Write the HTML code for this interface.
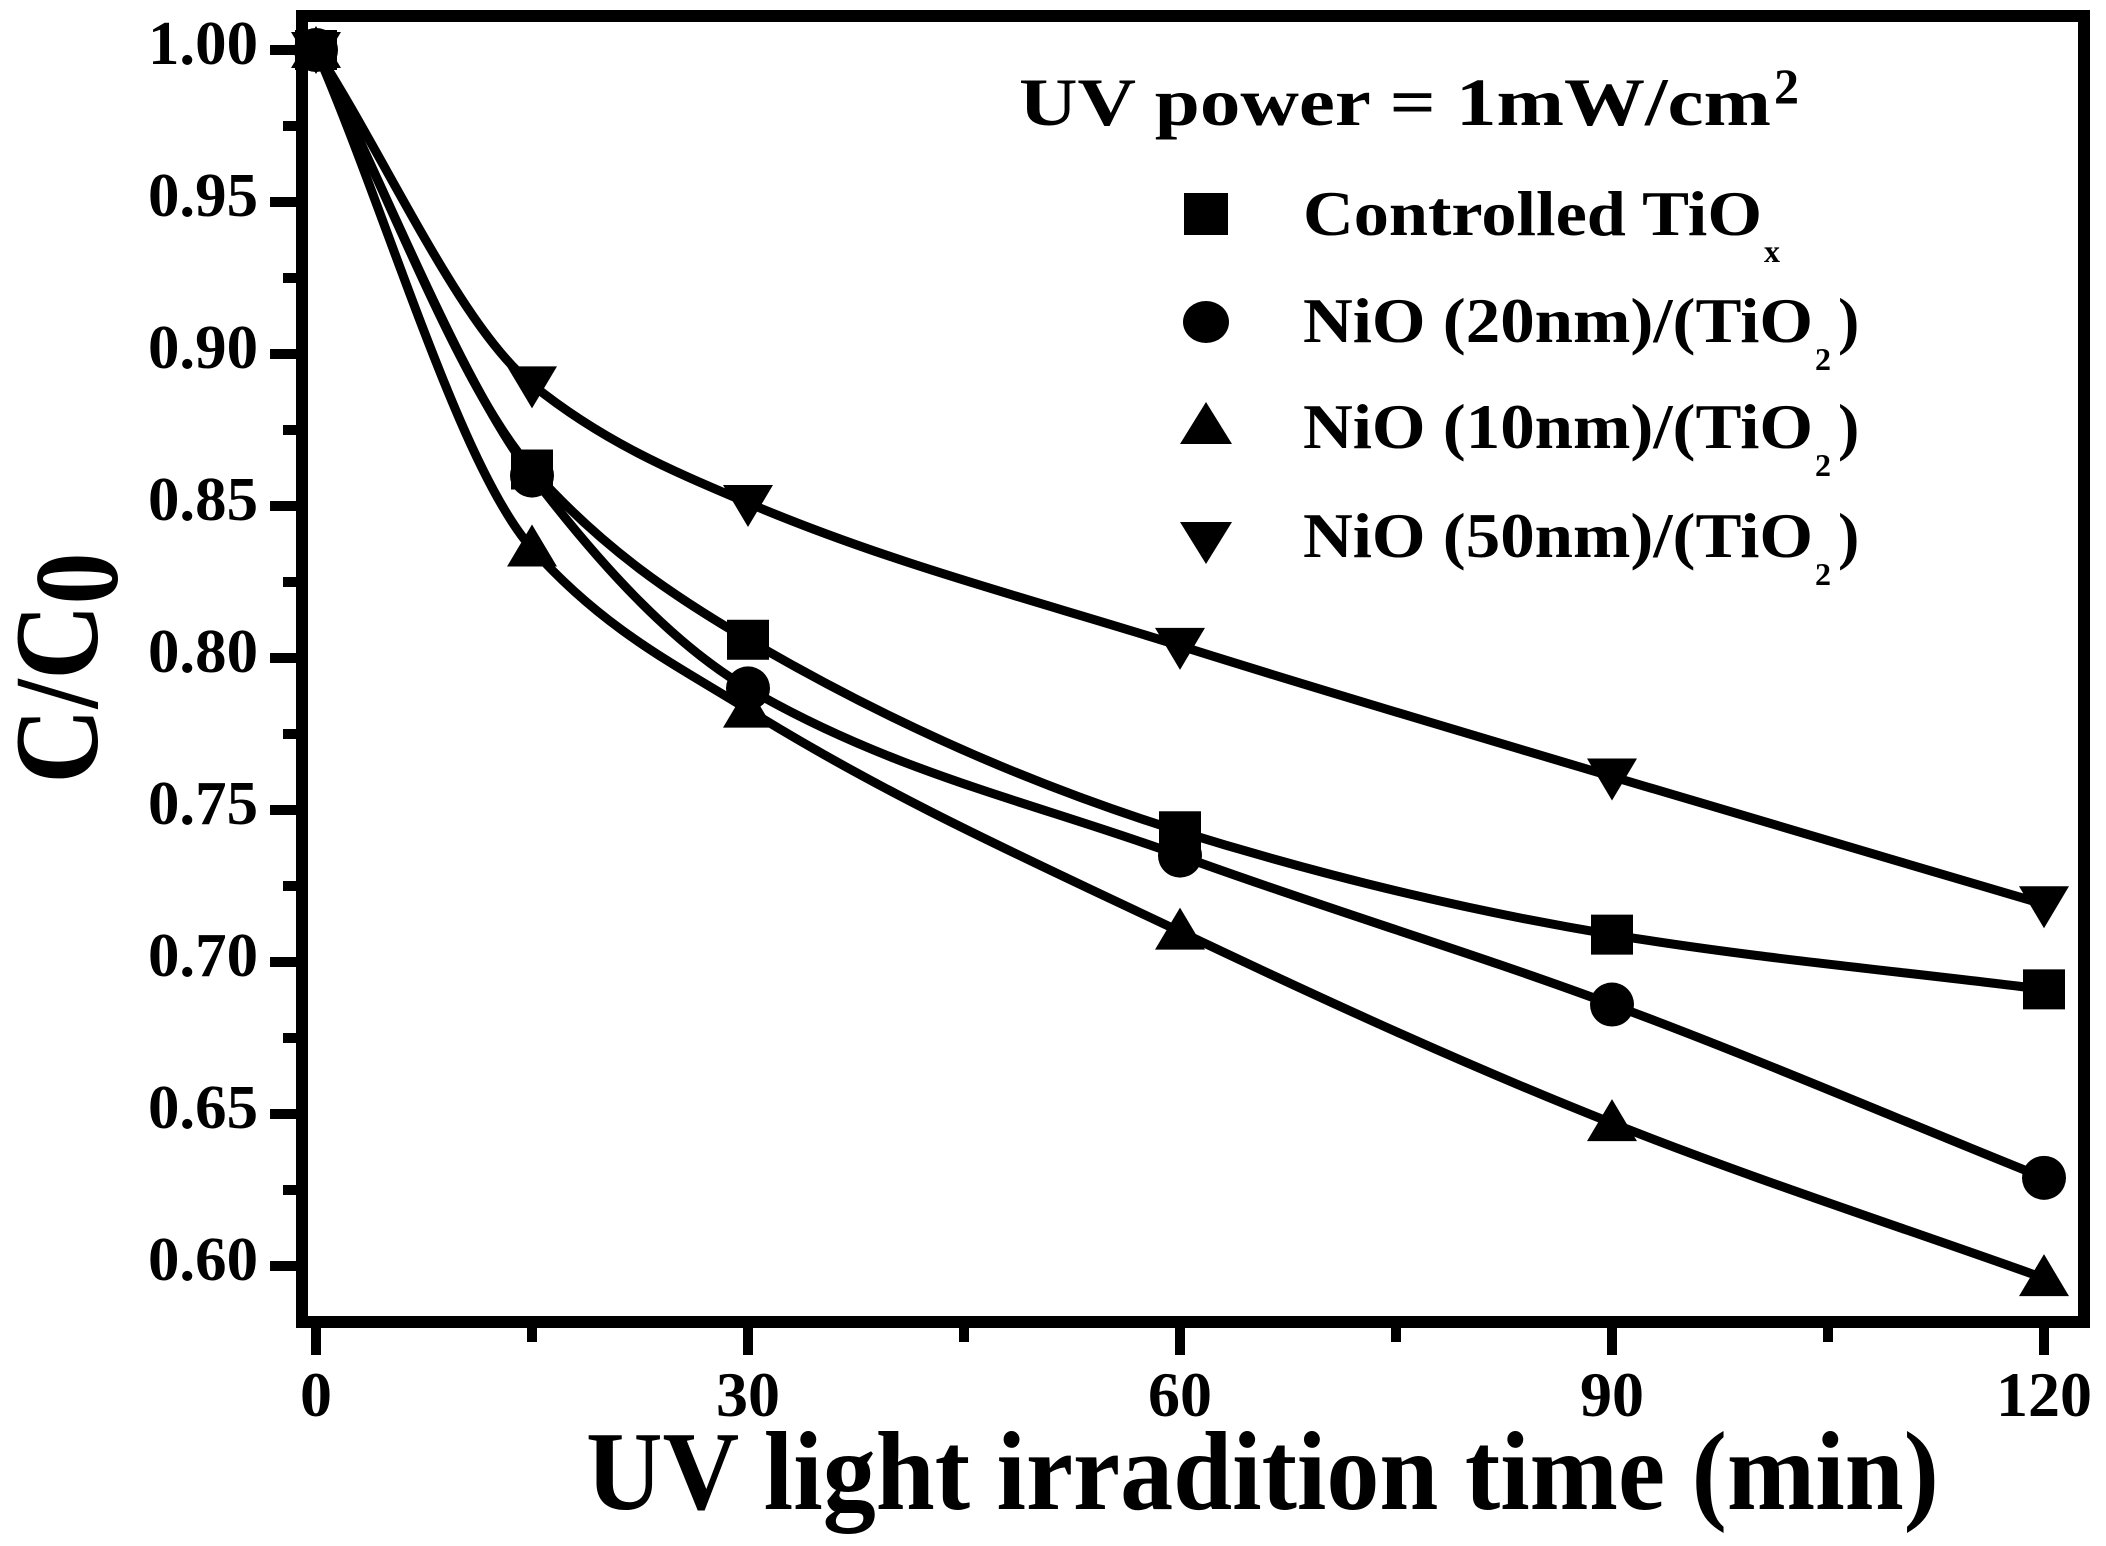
<!DOCTYPE html>
<html><head><meta charset="utf-8"><style>
html,body{margin:0;padding:0;background:#fff;}
svg{display:block;font-family:"Liberation Serif",serif;font-weight:bold;}
</style></head><body>
<svg id="chart" width="2106" height="1546" viewBox="0 0 2106 1546" xmlns="http://www.w3.org/2000/svg">
<rect width="2106" height="1546" fill="#fff"/>
<g id="series"></g>
<rect x="302" y="16" width="1782" height="1306" fill="none" stroke="#000" stroke-width="12"/>
<g id="ticks"></g>
<text transform="translate(97,668) rotate(-90)" text-anchor="middle" font-size="120" textLength="231" lengthAdjust="spacingAndGlyphs">C/C<tspan dy="20">0</tspan></text>
<text x="586" y="1509" font-size="112" textLength="1353" lengthAdjust="spacingAndGlyphs">UV light irradition time  (min)</text>
<g>
<text x="1019" y="125" font-size="68" textLength="752" lengthAdjust="spacingAndGlyphs">UV power = 1mW/cm</text>
<text x="1774" y="103" font-size="50">2</text>
<rect x="1184" y="193" width="44" height="42"/>
<text x="1303" y="235" font-size="64" textLength="459" lengthAdjust="spacingAndGlyphs">Controlled TiO</text>
<text x="1764" y="262" font-size="32">x</text>
<ellipse cx="1206" cy="322" rx="23" ry="21"/>
<text x="1303" y="342" font-size="64" textLength="510" lengthAdjust="spacingAndGlyphs">NiO (20nm)/(TiO</text>
<text x="1815" y="370" font-size="32">2</text>
<text x="1838" y="342" font-size="64">)</text>
<polygon points="1206,402 1232,444 1180,444"/>
<text x="1303" y="448" font-size="64" textLength="510" lengthAdjust="spacingAndGlyphs">NiO (10nm)/(TiO</text>
<text x="1815" y="476" font-size="32">2</text>
<text x="1838" y="448" font-size="64">)</text>
<polygon points="1180,522 1232,522 1206,564"/>
<text x="1303" y="557" font-size="64" textLength="510" lengthAdjust="spacingAndGlyphs">NiO (50nm)/(TiO</text>
<text x="1815" y="585" font-size="32">2</text>
<text x="1838" y="557" font-size="64">)</text>
</g>
</svg>
<script>
const times = [0, 15, 30, 60, 90, 120];
const controlled = [1.0, 0.862, 0.806, 0.743, 0.709, 0.691];
const nio20 = [1.0, 0.860, 0.790, 0.735, 0.686, 0.629];
const nio10 = [1.0, 0.836, 0.783, 0.710, 0.647, 0.596];
const nio50 = [1.0, 0.890, 0.851, 0.804, 0.761, 0.719];
const xTickLabels = ["0", "30", "60", "90", "120"];
const yTickLabels = ["0.60", "0.65", "0.70", "0.75", "0.80", "0.85", "0.90", "0.95", "1.00"];

const NS = "http://www.w3.org/2000/svg";
const xs = v => 316 + v * (1728 / 120);
const ys = v => 1266 - (v - 0.60) * (1216 / 0.40);
function mk(tag, attrs, parent) {
  const e = document.createElementNS(NS, tag);
  for (const k in attrs) e.setAttribute(k, attrs[k]);
  parent.appendChild(e); return e;
}
const tg = document.getElementById('ticks');
for (let m = 0; m <= 120; m += 15) {
  const major = m % 30 === 0;
  const t = mk('line', {x1: xs(m), x2: xs(m), y1: 1326, y2: major ? 1355 : 1342, stroke: '#000', 'stroke-width': 10}, tg);
  
  
}
xTickLabels.forEach(l => {
  const t = mk('text', {x: xs(+l), y: 1416, 'text-anchor': 'middle', 'font-size': 64, textLength: 32 * l.length, lengthAdjust: 'spacingAndGlyphs'}, tg);
  t.textContent = l;
  
  
});
for (let i = 0; i <= 16; i++) {
  const v = 0.60 + i * 0.025;
  const major = i % 2 === 0;
  const t = mk('line', {x1: 298, x2: major ? 270 : 283, y1: ys(v), y2: ys(v), stroke: '#000', 'stroke-width': 10}, tg);
  
  
}
yTickLabels.forEach(l => {
  const t = mk('text', {x: 258, y: ys(+l) + 14, 'text-anchor': 'end', 'font-size': 62, textLength: 110, lengthAdjust: 'spacingAndGlyphs'}, tg);
  t.textContent = l;
  
  
});

function monotonePath(xv, yv) {
  const n = xv.length, d = [], m = [];
  for (let i = 0; i < n - 1; i++) d.push((yv[i + 1] - yv[i]) / (xv[i + 1] - xv[i]));
  m[0] = d[0]; m[n - 1] = d[n - 2];
  for (let i = 1; i < n - 1; i++) {
    if (d[i - 1] * d[i] <= 0) m[i] = 0;
    else {
      const h0 = xv[i] - xv[i - 1], h1 = xv[i + 1] - xv[i];
      const w1 = 2 * h1 + h0, w2 = h1 + 2 * h0;
      m[i] = (w1 + w2) / (w1 / d[i - 1] + w2 / d[i]);
    }
  }
  let p = `M${xs(xv[0])},${ys(yv[0])}`;
  for (let i = 0; i < n - 1; i++) {
    const h = xv[i + 1] - xv[i];
    const c1x = xv[i] + h / 3, c1y = yv[i] + m[i] * h / 3;
    const c2x = xv[i + 1] - h / 3, c2y = yv[i + 1] - m[i + 1] * h / 3;
    p += ` C${xs(c1x)},${ys(c1y)} ${xs(c2x)},${ys(c2y)} ${xs(xv[i + 1])},${ys(yv[i + 1])}`;
  }
  return p;
}
const sg = document.getElementById('series');
const seriesList = [[controlled, 'square', 'controlled'], [nio20, 'circle', 'nio20'], [nio10, 'up', 'nio10'], [nio50, 'down', 'nio50']];
seriesList.forEach(([vals, shape, name]) => {
  const p = mk('path', {d: monotonePath(times, vals), fill: 'none', stroke: '#000', 'stroke-width': 9}, sg);
  
  
  times.forEach((t, i) => {
    const x = xs(t), y = ys(vals[i]);
    let e;
    if (shape === 'square') e = mk('rect', {x: x - 21, y: y - 20, width: 42, height: 40}, sg);
    else if (shape === 'circle') e = mk('ellipse', {cx: x, cy: y, rx: 22, ry: 22}, sg);
    else if (shape === 'up') e = mk('polygon', {points: `${x},${y - 24} ${x + 25},${y + 18} ${x - 25},${y + 18}`}, sg);
    else e = mk('polygon', {points: `${x - 25},${y - 18} ${x + 25},${y - 18} ${x},${y + 24}`}, sg);
    
    
  });
});
</script>
</body></html>
